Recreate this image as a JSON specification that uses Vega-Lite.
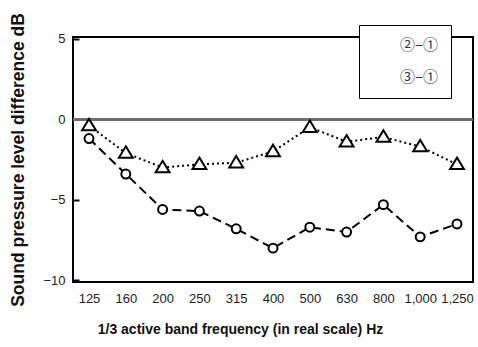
{
  "$schema": "https://vega.github.io/schema/vega-lite/v6.json",
  "width": 400,
  "height": 245,
  "autosize": {"type": "none"},
  "padding": {"left": 73, "top": 37, "right": 5, "bottom": 65},
  "background": "white",
  "config": {
    "font": "Liberation Sans",
    "view": {"stroke": "black", "strokeWidth": 2},
    "axis": {"labelFont": "Liberation Sans", "labelFontSize": 13, "labelColor": "#222", "titleFont": "Liberation Sans", "titleFontWeight": "bold", "titleColor": "#111", "grid": false}
  },
  "data": {
    "values": [
      {"f": "125", "s": "②–①", "v": -1.2},
      {"f": "160", "s": "②–①", "v": -3.4},
      {"f": "200", "s": "②–①", "v": -5.6},
      {"f": "250", "s": "②–①", "v": -5.7},
      {"f": "315", "s": "②–①", "v": -6.8},
      {"f": "400", "s": "②–①", "v": -8.0},
      {"f": "500", "s": "②–①", "v": -6.7},
      {"f": "630", "s": "②–①", "v": -7.0},
      {"f": "800", "s": "②–①", "v": -5.3},
      {"f": "1,000", "s": "②–①", "v": -7.3},
      {"f": "1,250", "s": "②–①", "v": -6.5},
      {"f": "125", "s": "③–①", "v": -0.4},
      {"f": "160", "s": "③–①", "v": -2.1},
      {"f": "200", "s": "③–①", "v": -3.0},
      {"f": "250", "s": "③–①", "v": -2.8},
      {"f": "315", "s": "③–①", "v": -2.7},
      {"f": "400", "s": "③–①", "v": -2.0},
      {"f": "500", "s": "③–①", "v": -0.5},
      {"f": "630", "s": "③–①", "v": -1.4},
      {"f": "800", "s": "③–①", "v": -1.1},
      {"f": "1,000", "s": "③–①", "v": -1.7},
      {"f": "1,250", "s": "③–①", "v": -2.8}
    ]
  },
  "encoding": {
    "x": {
      "field": "f", "type": "ordinal", "sort": null,
      "scale": {"type": "point", "padding": 0.435},
      "axis": {"title": "1/3 active band frequency (in real scale) Hz", "labelAngle": 0, "ticks": false, "domain": false, "labelPadding": 10, "titleFontSize": 14, "titleX": 167, "titleY": 51, "titleBaseline": "alphabetic", "titleAlign": "center"}
    },
    "y": {
      "field": "v", "type": "quantitative",
      "scale": {"domain": [-10.1, 5.1], "nice": false, "zero": false},
      "axis": {"title": "Sound pressure level difference  dB", "values": [5, 0, -5, -10], "ticks": true, "tickSize": -6, "tickColor": "black", "tickWidth": 2, "domain": false, "labelPadding": 14, "titleFontSize": 17.5, "titlePadding": 15}
    }
  },
  "layer": [
    {
      "mark": {"type": "rule", "color": "#6e6e6e", "strokeWidth": 2.5},
      "encoding": {"y": {"datum": 0}, "x": null}
    },
    {
      "transform": [{"filter": "datum.s === '②–①'"}],
      "mark": {"type": "line", "color": "black", "strokeWidth": 2, "strokeDash": [9, 5]},
      "encoding": {}
    },
    {
      "transform": [{"filter": "datum.s === '③–①'"}],
      "mark": {"type": "line", "color": "black", "strokeWidth": 2, "strokeDash": [2, 3]},
      "encoding": {}
    },
    {
      "mark": {"type": "point", "filled": false, "fill": "white", "fillOpacity": 1, "stroke": "black", "strokeWidth": 2, "opacity": 1, "size": 80},
      "encoding": {
        "shape": {
          "field": "s", "type": "nominal",
          "scale": {"range": ["circle", "M0,-1.5L1.55,1.05L-1.55,1.05Z"]},
          "legend": {
            "title": null, "orient": "none", "legendX": 286, "legendY": -12,
            "fillColor": "white", "strokeColor": "black",
            "padding": 12, "rowPadding": 12, "labelFontSize": 15, "labelFont": "Noto Sans CJK JP", "labelColor": "#333",
            "labelExpr": "datum.label + '   '",
            "symbolSize": 80, "symbolStrokeColor": "black", "symbolStrokeWidth": 2, "symbolFillColor": "white", "labelOffset": 14
          }
        }
      }
    }
  ]
}
